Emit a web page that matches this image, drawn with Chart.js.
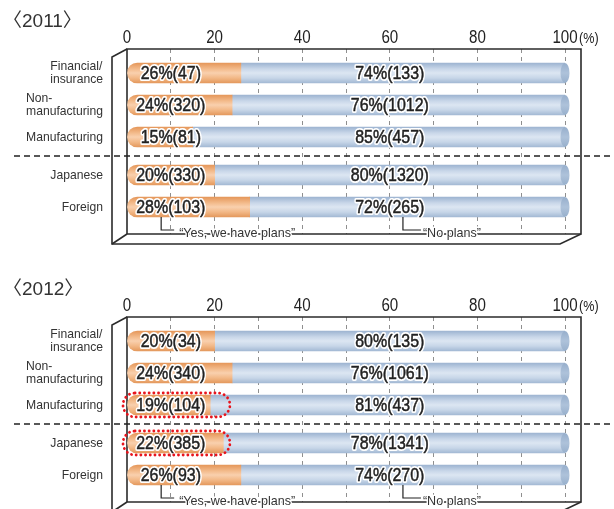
<!DOCTYPE html>
<html>
<head>
<meta charset="utf-8">
<script src="https://cdn.jsdelivr.net/npm/chart.js@4/dist/chart.umd.min.js"></script>
<style>
  html, body { margin: 0; padding: 0; background: #fff; width: 614px; height: 509px; overflow: hidden; }
  .panel { position: absolute; left: 0; width: 614px; height: 268px; }
</style>
</head>
<body>
<div class="panel" style="top:0"><canvas id="c2011" width="614" height="268"></canvas></div>
<div class="panel" style="top:268px"><canvas id="c2012" width="614" height="268"></canvas></div>
<script>
// ---- data -------------------------------------------------------------
const categories = [['Financial/', 'insurance'], ['Non-', 'manufacturing'], ['Manufacturing'], ['Japanese'], ['Foreign']];
const seriesNames = ['\u201CYes, we have plans\u201D', '\u201CNo plans\u201D'];
const xTicks = [0, 20, 40, 60, 80, 100];

const yesPct2011   = [26, 24, 15, 20, 28];
const yesCount2011 = [47, 320, 81, 330, 103];
const noPct2011    = [74, 76, 85, 80, 72];
const noCount2011  = [133, 1012, 457, 1320, 265];

const yesPct2012   = [20, 24, 19, 22, 26];
const yesCount2012 = [34, 340, 104, 385, 93];
const noPct2012    = [80, 76, 81, 78, 74];
const noCount2012  = [135, 1061, 437, 1341, 270];
const highlight2012 = [false, false, true, true, false];

// ---- layout helpers ---------------------------------------------------
const BAR = 20;                 // bar thickness in px
const GROUP_BREAK = 2;          // industry rows end here, ownership rows follow
function rowPos(i) { return i + (i > GROUP_BREAK ? 0.1875 : 0); }

const ORANGE = [[0, '#e5975a'], [0.3, '#f3bb8c'], [0.5, '#f9d0ae'], [0.75, '#f2b887'], [1, '#e4995d']];
const BLUE   = [[0, '#9db4d1'], [0.3, '#c9d7e9'], [0.5, '#dce6f2'], [0.75, '#c7d6e8'], [1, '#a3b9d4']];

function cylinder(stops) {
  return (c) => {
    const chart = c.chart;
    if (!chart.chartArea || c.type !== 'data' || !chart.scales.y) return stops[2][1];
    const y = chart.scales.y.getPixelForValue(c.raw.y);
    const g = chart.ctx.createLinearGradient(0, y - BAR / 2, 0, y + BAR / 2);
    stops.forEach(([o, col]) => g.addColorStop(o, col));
    return g;
  };
}

function drawText(ctx, text, x, y, o) {
  ctx.save();
  ctx.font = (o.weight || '') + ' ' + o.size + 'px ' + (o.family || '"Liberation Sans", Arial, sans-serif');
  ctx.translate(x, y);
  ctx.scale(o.scaleX || 1, 1);
  ctx.textAlign = o.align || 'left';
  ctx.textBaseline = o.baseline || 'middle';
  if (o.halo) {
    ctx.lineWidth = o.halo;
    ctx.lineJoin = 'round';
    ctx.strokeStyle = '#fff';
    ctx.strokeText(text, 0, 0);
  }
  ctx.fillStyle = o.color || '#222';
  ctx.fillText(text, 0, 0);
  if (o.thicken) {
    ctx.lineWidth = o.thicken;
    ctx.strokeStyle = o.color || '#222';
    ctx.strokeText(text, 0, 0);
  }
  ctx.restore();
}

function line(ctx, pts, width, color, dash) {
  ctx.save();
  ctx.beginPath();
  ctx.moveTo(pts[0][0], pts[0][1]);
  for (let i = 1; i < pts.length; i++) ctx.lineTo(pts[i][0], pts[i][1]);
  ctx.lineWidth = width;
  ctx.strokeStyle = color;
  ctx.setLineDash(dash || []);
  ctx.stroke();
  ctx.restore();
}

// ---- per-panel decorations ---------------------------------------------
function panelPlugin(year, yesPct, yesCount, noPct, noCount, highlight) {
  return {
    id: 'panel' + year,
    beforeDatasetsDraw(chart) {
      const { ctx, chartArea: a, scales: { x } } = chart;
      const x0 = x.getPixelForValue(0);
      const xr = x.getPixelForValue(100) + 16;
      const dx = 15, dy = 8, bot = a.bottom + 10;
      const c = '#2b2b2b', w = 1.6;
      // back wall and floor edge
      line(ctx, [[x0, a.bottom], [x0, a.top], [xr, a.top], [xr, a.bottom], [x0, a.bottom]], w, c);
      // front edges of the frame
      line(ctx, [[x0, a.top], [x0 - dx, a.top + dy], [x0 - dx, bot], [xr - 21, bot], [xr, a.bottom]], w, c);
      line(ctx, [[x0 - dx, bot], [x0, a.bottom]], w, c);
    },
    afterDatasetsDraw(chart) {
      const { ctx, chartArea: a, scales: { x, y } } = chart;

      // elliptical end caps on the right of each bar
      const meta = chart.getDatasetMeta(1);
      meta.data.forEach((el) => {
        const g = ctx.createLinearGradient(0, el.y - BAR / 2, 0, el.y + BAR / 2);
        g.addColorStop(0, '#96aecb'); g.addColorStop(0.5, '#aec2da'); g.addColorStop(1, '#98b0cc');
        ctx.save();
        ctx.beginPath();
        ctx.ellipse(el.x, el.y, 4.5, BAR / 2, 0, 0, Math.PI * 2);
        ctx.fillStyle = g;
        ctx.fill();
        ctx.restore();
      });

      // value labels
      const labelFont = { size: 19, scaleX: 0.84, halo: 4, thicken: 0.5, color: '#222' };
      yesPct.forEach((v, i) => {
        const py = y.getPixelForValue(rowPos(i)) + 1;
        drawText(ctx, v + '%(' + yesCount[i] + ')', x.getPixelForValue(10), py, Object.assign({ align: 'center' }, labelFont));
        drawText(ctx, noPct[i] + '%(' + noCount[i] + ')', x.getPixelForValue(60), py, Object.assign({ align: 'center' }, labelFont));
      });

      // dotted highlight rings
      highlight.forEach((h, i) => {
        if (!h) return;
        const py = y.getPixelForValue(rowPos(i));
        const left = x.getPixelForValue(0) - 4;
        const right = x.getPixelForValue(23.5);
        ctx.save();
        ctx.beginPath();
        ctx.roundRect(left, py - 12, right - left, 24, 12);
        ctx.setLineDash([0.1, 4.6]);
        ctx.lineCap = 'round';
        ctx.lineWidth = 2.8;
        ctx.strokeStyle = '#e8141c';
        ctx.stroke();
        ctx.restore();
      });

      // dashed divider between the industry rows and the ownership rows
      const yDiv = (y.getPixelForValue(rowPos(GROUP_BREAK)) + y.getPixelForValue(rowPos(GROUP_BREAK + 1))) / 2;
      line(ctx, [[14, yDiv], [610, yDiv]], 1.3, '#222', [6, 4]);

      // series callouts under the last row
      const last = categories.length - 1;
      const barBottom = y.getPixelForValue(rowPos(last)) + BAR / 2;
      const callY = barBottom + 13;
      const yesX = x.getPixelForValue(7.8), noX = x.getPixelForValue(63);
      line(ctx, [[yesX, barBottom], [yesX, callY], [yesX + 13, callY]], 1.2, '#222');
      line(ctx, [[noX, barBottom], [noX, callY], [noX + 18, callY]], 1.2, '#222');
      const callFont = { size: 13.5, scaleX: 0.93, halo: 3, color: '#333' };
      drawText(ctx, seriesNames[0], yesX + 18, a.bottom - 1, callFont);
      drawText(ctx, seriesNames[1], noX + 20, a.bottom - 1, callFont);

      // category labels
      const rightEdge = x.getPixelForValue(0) - 24;
      const catFont = '13.5px "Liberation Sans", Arial, sans-serif';
      ctx.save();
      ctx.font = catFont;
      categories.forEach((lines, i) => {
        const py = y.getPixelForValue(rowPos(i));
        const wMax = Math.max(...lines.map((t) => ctx.measureText(t).width)) * 0.9;
        const left = lines.length > 1 ? rightEdge - wMax : null;
        lines.forEach((t, k) => {
          const ly = py + (k - (lines.length - 1) / 2) * 13;
          if (left === null) drawText(ctx, t, rightEdge, ly, { size: 13.5, scaleX: 0.9, align: 'right', color: '#333' });
          else drawText(ctx, t, left, ly, { size: 13.5, scaleX: 0.9, align: 'left', color: '#333' });
        });
      });
      ctx.restore();

      // axis tick labels along the top
      xTicks.forEach((t) => {
        drawText(ctx, String(t), x.getPixelForValue(t), 43, { size: 18, scaleX: 0.84, align: 'center', baseline: 'alphabetic', color: '#222' });
      });
      drawText(ctx, '(%)', x.getPixelForValue(100) + 14, 43, { size: 15, scaleX: 0.84, align: 'left', baseline: 'alphabetic', color: '#222' });

      // panel title
      drawText(ctx, '\u3008' + year + '\u3009', 3, 27, { size: 19, align: 'left', baseline: 'alphabetic', color: '#333',
        family: '"Liberation Sans", "Noto Sans CJK JP", sans-serif' });
    }
  };
}

function makePanel(canvasId, year, yesPct, yesCount, noPct, noCount, highlight) {
  return new Chart(document.getElementById(canvasId), {
    type: 'bar',
    data: {
      datasets: [
        {
          label: seriesNames[0],
          data: yesPct.map((v, i) => ({ x: v, y: rowPos(i) })),
          backgroundColor: cylinder(ORANGE),
          borderSkipped: false,
          borderRadius: { topLeft: 10, bottomLeft: 10, topRight: 0, bottomRight: 0 },
          barThickness: BAR
        },
        {
          label: seriesNames[1],
          data: noPct.map((v, i) => ({ x: v, y: rowPos(i) })),
          backgroundColor: cylinder(BLUE),
          borderSkipped: false,
          borderRadius: 0,
          barThickness: BAR
        }
      ]
    },
    options: {
      indexAxis: 'y',
      responsive: false,
      animation: false,
      layout: { padding: { left: 127, right: 49, top: 49, bottom: 34 } },
      scales: {
        x: {
          type: 'linear', position: 'top', min: 0, max: 100, stacked: true,
          ticks: { display: false, stepSize: 10 },
          grid: {
            drawTicks: false, lineWidth: 1,
            color: (c) => (c.tick && c.tick.value === 0 ? 'rgba(0,0,0,0)' : '#8f8f8f')
          },
          border: { display: false, dash: [4, 4] },
          afterFit: (s) => { s.height = 0; }
        },
        y: {
          type: 'linear', reverse: true, offset: false, min: -0.75, max: 5.03125, stacked: true, display: false
        }
      },
      plugins: { legend: { display: false }, tooltip: { enabled: false } }
    },
    plugins: [panelPlugin(year, yesPct, yesCount, noPct, noCount, highlight)]
  });
}

makePanel('c2011', '2011', yesPct2011, yesCount2011, noPct2011, noCount2011, [false, false, false, false, false]);
makePanel('c2012', '2012', yesPct2012, yesCount2012, noPct2012, noCount2012, highlight2012);
</script>
</body>
</html>
